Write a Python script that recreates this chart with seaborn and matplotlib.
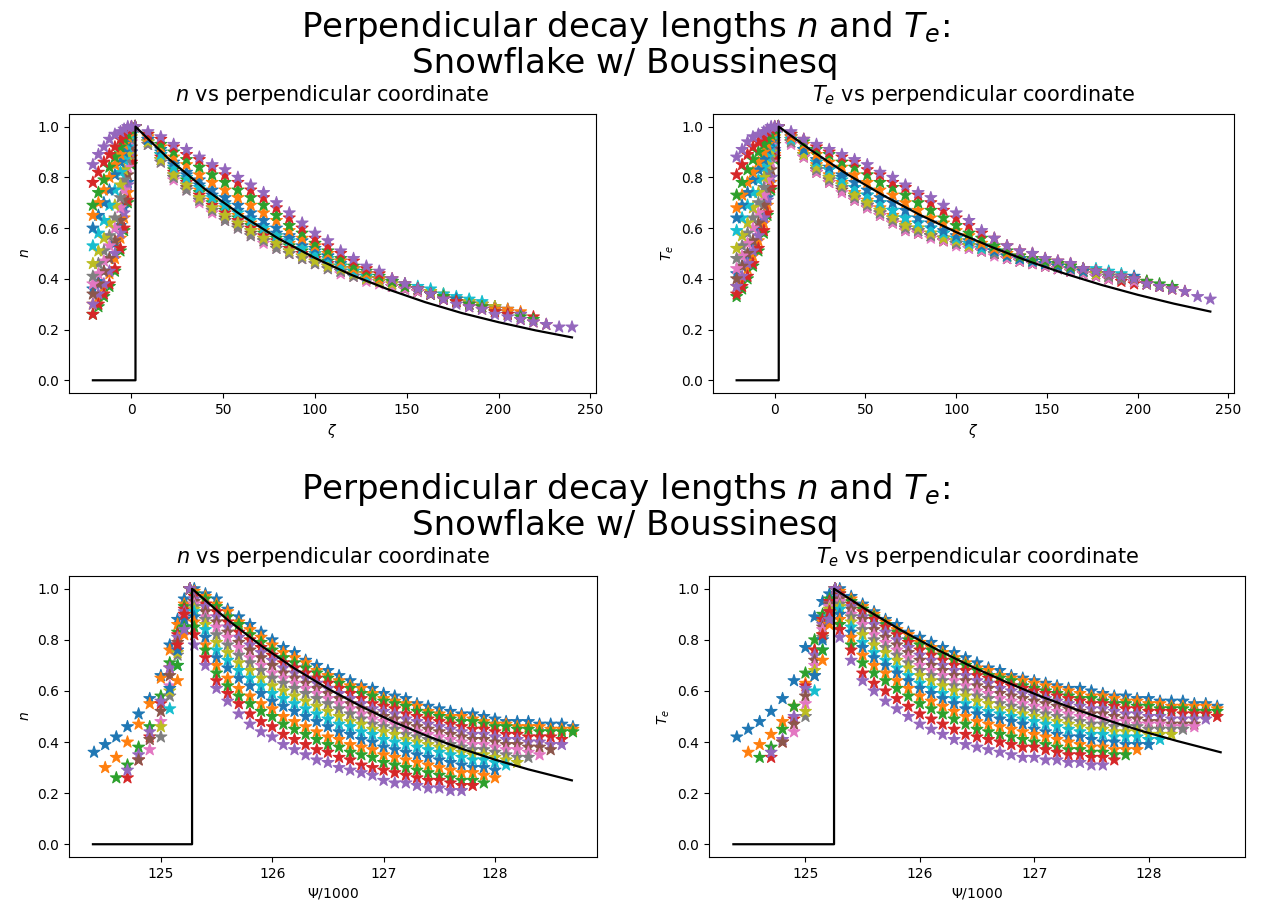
import matplotlib
matplotlib.use("Agg")
import matplotlib.pyplot as plt
import seaborn as sns
import pandas as pd

# perpendicular grids: zeta for the top row, psi/1000 for the bottom row
zeta_pfr = [-21, -18, -15, -12, -9, -6, -4, -2, 0]
zeta_sol = [2, 9, 16, 23, 30, 37, 44, 51, 58, 65, 72, 79, 86, 93, 100, 107, 114, 121,
            128, 135, 142, 149, 156, 163, 170, 177, 184, 191, 198, 205, 212, 219, 226, 233, 240]
psi_pfr = [124.40, 124.50, 124.60, 124.70, 124.80, 124.90, 125.00, 125.08, 125.15, 125.21, 125.26]
psi_sol = [125.3, 125.4, 125.5, 125.6, 125.7, 125.8, 125.9, 126.0, 126.1, 126.2, 126.3, 126.4,
           126.5, 126.6, 126.7, 126.8, 126.9, 127.0, 127.1, 127.2, 127.3, 127.4, 127.5, 127.6,
           127.7, 127.8, 127.9, 128.0, 128.1, 128.2, 128.3, 128.4, 128.5, 128.6, 128.7]

# profiles (percent of peak), one row per poloidal location
n_zeta_pfr = [
    [36, 39, 43, 48, 54, 61, 68, 78, 90],
    [30, 33, 37, 42, 48, 56, 64, 74, 88],
    [26, 29, 33, 37, 43, 51, 59, 70, 85],
    [26, 30, 34, 38, 44, 52, 60, 71, 86],
    [30, 34, 38, 43, 50, 58, 66, 77, 90],
    [34, 38, 43, 48, 55, 63, 71, 81, 92],
    [38, 42, 47, 53, 60, 68, 75, 84, 94],
    [41, 46, 51, 57, 64, 72, 79, 87, 95],
    [46, 51, 56, 62, 69, 77, 83, 89, 96],
    [53, 58, 63, 69, 75, 82, 87, 92, 97],
    [60, 65, 70, 75, 81, 86, 90, 94, 98],
    [65, 70, 75, 80, 85, 89, 93, 96, 99],
    [69, 74, 79, 84, 88, 92, 95, 97, 99],
    [78, 82, 86, 89, 92, 95, 97, 99, 100],
    [85, 89, 92, 95, 97, 98, 99, 100, 100],
]
n_zeta_sol = [
    [100, 95, 90, 85, 81, 77, 73, 70, 67, 64, 61, 58, 56, 53, 51, 49, 46, 44, 42, 40, 39, 37, 36, 35, 33, 32, 31, 30, 29, 28],
    [100, 95, 89, 84, 80, 75, 71, 68, 65, 62, 59, 57, 54, 52, 50, 48, 45, 43, 41, 40, 38, 37, 36, 35, 33, 32, 31, 30, 29, 28, 27],
    [100, 94, 89, 83, 79, 74, 70, 67, 64, 61, 58, 56, 53, 51, 49, 47, 45, 43, 41, 39, 37, 36, 35, 34, 32, 31, 30, 29, 28, 27, 26],
    [100, 94, 88, 82, 78, 73, 69, 66, 63, 60, 57, 55, 52, 50, 48, 46, 44, 42, 40, 39, 37, 36, 35, 34, 32, 31, 30, 29, 28, 27, 26, 25],
    [100, 94, 87, 81, 77, 72, 68, 65, 62, 59, 56, 54, 51, 49, 47, 45, 43, 42, 40, 39, 37, 36, 35, 34, 32, 31, 30, 29, 28, 27, 26],
    [100, 93, 87, 80, 76, 71, 67, 64, 61, 58, 55, 53, 50, 48, 46, 45, 43, 41, 40, 39, 37, 36, 35, 34, 32, 31, 30, 29, 28, 27],
    [100, 93, 86, 79, 75, 70, 66, 63, 60, 57, 54, 52, 50, 48, 46, 44, 42, 41, 39, 38, 37, 36, 35, 34, 32, 31, 30, 29, 28, 27],
    [100, 93, 86, 80, 75, 71, 67, 63, 60, 57, 55, 52, 50, 48, 46, 44, 43, 41, 40, 39, 38, 37, 36, 34, 33, 32, 31, 30, 29],
    [100, 94, 87, 81, 77, 72, 68, 65, 62, 59, 56, 54, 51, 49, 47, 45, 44, 42, 40, 39, 38, 37, 36, 35, 34, 32, 31, 30, 29],
    [100, 95, 89, 84, 80, 76, 72, 69, 66, 63, 60, 57, 55, 52, 50, 48, 45, 43, 41, 40, 39, 38, 37, 36, 34, 33, 32, 31],
    [100, 95, 91, 86, 82, 79, 75, 72, 69, 66, 63, 60, 57, 55, 52, 49, 47, 44, 42, 40, 39, 37, 36, 34, 33, 32, 30, 29, 28],
    [100, 96, 92, 88, 85, 81, 78, 75, 72, 69, 66, 63, 59, 56, 53, 50, 47, 44, 42, 40, 39, 37, 36, 34, 33, 31, 30, 29, 28, 27],
    [100, 97, 93, 90, 87, 84, 81, 78, 75, 72, 69, 65, 61, 58, 54, 51, 48, 45, 43, 41, 39, 37, 36, 34, 33, 31, 30, 29, 27, 26, 25, 24],
    [100, 97, 95, 92, 89, 87, 84, 81, 78, 75, 72, 68, 64, 60, 56, 53, 50, 47, 44, 42, 40, 38, 36, 34, 32, 31, 29, 28, 27, 26, 24, 23, 22],
    [100, 98, 96, 93, 91, 88, 85, 83, 80, 77, 74, 70, 66, 62, 58, 55, 51, 48, 45, 43, 40, 38, 36, 34, 32, 30, 29, 28, 26, 25, 24, 23, 22, 21, 21],
]
te_zeta_pfr = [
    [42, 45, 49, 54, 59, 65, 72, 80, 90],
    [37, 40, 44, 49, 55, 62, 69, 78, 89],
    [33, 36, 40, 45, 51, 58, 65, 75, 87],
    [34, 37, 41, 46, 52, 59, 66, 76, 88],
    [37, 41, 46, 51, 57, 64, 71, 80, 91],
    [40, 45, 50, 55, 62, 69, 75, 83, 93],
    [44, 49, 54, 60, 66, 73, 79, 86, 94],
    [48, 53, 58, 64, 70, 76, 82, 88, 95],
    [52, 57, 62, 68, 74, 80, 85, 90, 96],
    [59, 64, 69, 74, 79, 84, 88, 92, 97],
    [64, 69, 74, 79, 83, 87, 91, 94, 98],
    [68, 73, 78, 82, 86, 90, 93, 96, 99],
    [73, 78, 83, 87, 90, 93, 95, 97, 99],
    [81, 85, 89, 92, 94, 96, 98, 99, 100],
    [88, 91, 94, 96, 97, 98, 99, 100, 100],
]
te_zeta_sol = [
    [100, 96, 91, 86, 83, 80, 76, 73, 70, 67, 64, 62, 60, 58, 56, 54, 52, 51, 49, 48, 47, 46, 45, 44, 43, 42, 41, 40, 40, 39],
    [100, 95, 90, 85, 81, 78, 74, 71, 68, 65, 62, 60, 58, 56, 55, 53, 52, 50, 49, 48, 47, 46, 45, 44, 43, 42, 41, 40, 39, 38, 37],
    [100, 95, 89, 84, 80, 77, 73, 70, 67, 64, 61, 59, 57, 56, 54, 53, 52, 50, 49, 48, 47, 46, 45, 44, 43, 42, 41, 40, 39, 38, 37],
    [100, 94, 89, 83, 79, 76, 72, 69, 66, 63, 60, 58, 57, 55, 54, 53, 51, 50, 48, 47, 46, 45, 44, 43, 43, 42, 40, 39, 38, 38, 37, 36],
    [100, 94, 89, 83, 80, 76, 72, 69, 66, 63, 60, 59, 57, 56, 54, 52, 51, 50, 48, 47, 46, 45, 44, 43, 42, 41, 40, 40, 39, 38, 37],
    [100, 94, 88, 82, 78, 75, 71, 68, 65, 62, 59, 58, 57, 55, 54, 53, 51, 50, 48, 47, 46, 45, 44, 43, 42, 41, 40, 40, 39, 38],
    [100, 93, 88, 82, 78, 74, 71, 68, 65, 62, 59, 58, 56, 55, 53, 52, 51, 49, 48, 47, 46, 45, 44, 43, 42, 41, 40, 40, 39, 38],
    [100, 94, 89, 83, 79, 76, 72, 69, 66, 63, 60, 59, 57, 56, 54, 53, 52, 50, 49, 48, 47, 46, 45, 44, 43, 42, 41, 40, 40],
    [100, 95, 89, 84, 80, 77, 73, 70, 67, 64, 61, 60, 58, 56, 55, 53, 52, 51, 49, 48, 47, 46, 45, 44, 43, 42, 42, 41, 40],
    [100, 95, 91, 86, 83, 79, 76, 73, 70, 67, 64, 62, 60, 58, 56, 54, 52, 51, 49, 48, 47, 46, 46, 45, 44, 44, 43, 42],
    [100, 96, 91, 87, 84, 81, 78, 75, 72, 70, 67, 64, 62, 59, 57, 55, 53, 51, 49, 48, 47, 46, 45, 44, 43, 43, 42, 41, 41],
    [100, 96, 93, 89, 86, 84, 81, 78, 75, 73, 70, 67, 64, 62, 59, 57, 54, 52, 50, 49, 48, 47, 46, 45, 44, 43, 42, 41, 40, 39],
    [100, 97, 94, 91, 89, 86, 84, 81, 78, 76, 73, 70, 67, 64, 61, 58, 56, 53, 51, 49, 48, 47, 46, 45, 44, 43, 42, 41, 40, 39, 38, 37],
    [100, 97, 95, 92, 90, 88, 86, 83, 81, 78, 76, 73, 70, 67, 64, 61, 58, 56, 53, 51, 50, 48, 47, 46, 44, 43, 42, 41, 40, 38, 37, 36, 35],
    [100, 98, 95, 93, 91, 89, 87, 85, 82, 80, 77, 74, 72, 69, 66, 63, 59, 56, 53, 51, 50, 48, 47, 46, 44, 43, 42, 41, 40, 38, 37, 36, 35, 33, 32],
]
n_psi_pfr = [
    [36, 39, 42, 46, 51, 57, 66, 78, 88, 96, 100],
    [30, 34, 40, 47, 55, 65, 76, 86, 94, 100],
    [26, 31, 38, 46, 58, 71, 83, 93, 100],
    [26, 33, 42, 55, 69, 82, 92, 100],
    [29, 35, 44, 56, 69, 81, 91, 100],
    [33, 41, 52, 66, 79, 90, 100],
    [37, 48, 62, 76, 89, 100],
    [42, 58, 74, 88, 100],
    [46, 60, 75, 88, 100],
    [53, 70, 85, 100],
    [61, 76, 88, 100],
    [64, 82, 100],
    [70, 85, 100],
    [78, 90, 100],
    [84, 100],
]
n_psi_sol = [
    [100, 98, 96, 92, 89, 86, 83, 80, 77, 75, 72, 70, 68, 66, 64, 62, 61, 59, 58, 57, 55, 54, 53, 52, 51, 51, 50, 49, 48, 48, 48, 47, 47, 47, 46],
    [99, 97, 94, 91, 87, 84, 81, 78, 75, 73, 71, 68, 66, 64, 62, 61, 59, 57, 56, 55, 54, 52, 51, 50, 50, 49, 48, 47, 47, 46, 46, 46, 45, 45, 45],
    [98, 96, 93, 89, 86, 82, 79, 76, 73, 71, 69, 67, 65, 63, 61, 59, 58, 56, 55, 54, 52, 51, 50, 49, 48, 48, 47, 46, 46, 45, 45, 44, 44, 44, 44],
    [97, 94, 91, 87, 83, 80, 77, 74, 71, 69, 67, 65, 63, 61, 59, 57, 55, 54, 53, 51, 50, 49, 48, 47, 46, 45, 45, 44, 43, 43, 42, 42, 42, 41],
    [96, 93, 89, 85, 81, 78, 75, 72, 69, 67, 65, 63, 61, 59, 57, 55, 53, 52, 51, 49, 48, 47, 46, 45, 44, 43, 43, 42, 41, 41, 40, 40, 39, 39],
    [95, 91, 87, 83, 79, 76, 73, 70, 67, 65, 63, 61, 59, 57, 55, 53, 51, 50, 49, 47, 46, 45, 44, 43, 42, 41, 41, 40, 39, 39, 38, 38, 37],
    [94, 89, 85, 81, 77, 73, 70, 67, 65, 63, 61, 59, 57, 55, 53, 51, 49, 48, 47, 45, 44, 43, 42, 41, 40, 39, 39, 38, 37, 37, 36, 35],
    [93, 88, 82, 78, 74, 71, 68, 65, 63, 61, 59, 57, 55, 53, 51, 49, 47, 46, 45, 43, 42, 41, 40, 39, 38, 37, 37, 36, 35, 34, 34],
    [92, 86, 79, 75, 71, 68, 65, 62, 60, 58, 56, 54, 52, 50, 48, 47, 45, 44, 43, 41, 40, 39, 38, 37, 36, 35, 35, 34, 33, 32],
    [91, 84, 76, 72, 68, 65, 62, 59, 57, 55, 53, 51, 49, 47, 46, 44, 43, 41, 40, 39, 38, 37, 36, 35, 34, 33, 33, 32, 31],
    [89, 81, 73, 69, 65, 62, 59, 56, 54, 52, 50, 48, 46, 44, 43, 41, 40, 38, 37, 36, 35, 34, 33, 32, 31, 30, 30, 29],
    [87, 78, 70, 65, 61, 58, 55, 53, 50, 48, 46, 44, 42, 41, 39, 38, 37, 35, 34, 33, 32, 31, 30, 29, 28, 28, 27, 26],
    [85, 76, 67, 62, 58, 55, 52, 50, 47, 45, 43, 41, 39, 38, 36, 35, 34, 32, 31, 30, 29, 28, 27, 26, 25, 25, 24],
    [82, 73, 64, 59, 55, 51, 48, 46, 43, 41, 39, 37, 36, 34, 33, 31, 30, 29, 28, 27, 26, 25, 25, 24, 23, 23],
    [78, 70, 61, 56, 51, 47, 44, 42, 39, 37, 35, 33, 32, 30, 29, 28, 27, 25, 24, 24, 23, 22, 22, 21, 21],
]
te_psi_pfr = [
    [42, 45, 48, 52, 57, 64, 77, 89, 95, 98, 100],
    [36, 39, 43, 48, 54, 63, 76, 87, 94, 100],
    [34, 38, 45, 54, 67, 80, 90, 96, 100],
    [34, 40, 49, 62, 76, 88, 95, 100],
    [36, 41, 50, 61, 74, 86, 94, 100],
    [40, 47, 58, 72, 85, 94, 100],
    [44, 55, 70, 84, 93, 100],
    [50, 66, 81, 92, 100],
    [52, 68, 82, 92, 100],
    [60, 76, 89, 100],
    [66, 80, 91, 100],
    [72, 86, 100],
    [76, 88, 100],
    [82, 91, 100],
    [88, 100],
]
te_psi_sol = [
    [100, 97, 94, 91, 88, 86, 83, 81, 79, 77, 75, 73, 71, 69, 68, 66, 65, 64, 63, 62, 61, 61, 60, 59, 58, 58, 57, 57, 56, 56, 56, 55, 55, 54],
    [99, 96, 93, 90, 87, 84, 82, 79, 77, 75, 73, 71, 69, 68, 66, 65, 64, 63, 62, 61, 60, 59, 58, 58, 57, 56, 56, 55, 55, 54, 54, 54, 54, 53],
    [98, 95, 92, 89, 86, 83, 80, 78, 76, 74, 72, 70, 68, 66, 65, 64, 62, 61, 60, 59, 58, 57, 57, 56, 55, 55, 54, 54, 53, 53, 53, 52, 52, 52],
    [98, 94, 91, 88, 85, 82, 79, 76, 74, 72, 70, 68, 66, 65, 63, 62, 61, 60, 59, 58, 57, 56, 55, 55, 54, 53, 53, 52, 52, 52, 51, 51, 51, 50],
    [97, 93, 89, 86, 83, 80, 77, 74, 72, 70, 68, 66, 64, 63, 61, 60, 59, 58, 57, 56, 55, 54, 53, 53, 52, 51, 51, 50, 50, 49, 49, 49, 49],
    [96, 92, 88, 84, 81, 78, 75, 72, 70, 68, 66, 64, 62, 61, 59, 58, 57, 56, 55, 54, 53, 52, 51, 51, 50, 49, 49, 48, 48, 47, 47, 47],
    [95, 90, 86, 82, 79, 76, 73, 70, 68, 66, 64, 62, 60, 59, 57, 56, 55, 54, 53, 52, 51, 50, 49, 49, 48, 48, 47, 47, 47, 46, 46, 46],
    [94, 89, 84, 80, 77, 74, 71, 68, 66, 64, 62, 60, 58, 57, 55, 54, 53, 52, 51, 50, 49, 48, 47, 47, 46, 46, 46, 45, 45, 45, 45],
    [93, 87, 82, 78, 75, 72, 69, 66, 64, 62, 60, 58, 56, 55, 53, 52, 51, 50, 49, 48, 47, 46, 45, 45, 44, 44, 44, 43, 43, 43],
    [92, 85, 79, 75, 72, 69, 66, 63, 61, 59, 57, 55, 53, 52, 51, 50, 49, 48, 47, 46, 45, 44, 43, 43, 42, 42, 42, 41, 41],
    [90, 83, 77, 73, 70, 67, 64, 61, 59, 57, 55, 53, 51, 50, 49, 48, 47, 45, 44, 43, 42, 42, 41, 40, 40, 39, 39, 39],
    [88, 81, 74, 70, 67, 64, 61, 58, 56, 54, 52, 50, 48, 47, 46, 45, 44, 43, 42, 41, 40, 39, 38, 38, 37, 37, 37],
    [86, 78, 71, 67, 64, 61, 58, 55, 53, 51, 49, 47, 45, 44, 43, 42, 41, 40, 39, 38, 37, 37, 36, 36, 35, 35],
    [84, 76, 67, 63, 60, 57, 54, 51, 49, 47, 45, 43, 42, 41, 40, 39, 38, 38, 37, 36, 35, 35, 34, 34, 33],
    [81, 72, 64, 60, 56, 53, 50, 47, 45, 43, 41, 39, 38, 37, 36, 35, 34, 34, 33, 33, 32, 32, 31, 31],
]

# exponential fits (black lines)
fit_zeta = [-21, 2.2, 2.2, 20, 40, 60, 80, 100, 120, 140, 160, 180, 200, 220, 240]
n_fit_zeta = [0, 0, 1.0, .875, .754, .650, .559, .482, .415, .358, .308, .265, .229, .197, .169]
te_fit_zeta = [0, 0, 1.0, .907, .812, .728, .652, .584, .524, .469, .420, .376, .337, .302, .271]
fit_psi_n = [124.39, 125.28, 125.28, 125.6, 125.9, 126.2, 126.5, 126.8, 127.1, 127.4, 127.7, 128.0, 128.3, 128.69]
n_fit_psi = [0, 0, 1.0, .878, .777, .688, .609, .539, .477, .422, .374, .331, .293, .250]
fit_psi_te = [124.37, 125.25, 125.25, 125.55, 125.85, 126.15, 126.45, 126.75, 127.05, 127.35, 127.65, 127.95, 128.25, 128.63]
te_fit_psi = [0, 0, 1.0, .913, .834, .762, .696, .636, .580, .530, .484, .442, .404, .360]

row_title = "Perpendicular decay lengths $n$ and $T_e$:\nSnowflake w/ Boussinesq"

tab = sns.color_palette("tab10", 10)
names = [str(k) for k in range(15)]
palette = {names[k]: tab[k % 10] for k in range(15)}


def long_table(x_pfr, x_sol, pfr, sol):
    xs, ys, ss = [], [], []
    for k in range(len(pfr)):
        x = list(x_pfr[-len(pfr[k]):]) + list(x_sol[:len(sol[k])])
        y = [v / 100 for v in pfr[k] + sol[k]]
        xs += x
        ys += y
        ss += [names[k]] * len(x)
    return pd.DataFrame({"x": xs, "y": ys, "series": ss})


fig = plt.figure(figsize=(12.65, 9.16), dpi=100)
ax_tl = fig.add_axes([0.0545, 0.5710, 0.4166, 0.3046])
ax_tr = fig.add_axes([0.5636, 0.5710, 0.4119, 0.3046])
ax_bl = fig.add_axes([0.0545, 0.0644, 0.4174, 0.3068])
ax_br = fig.add_axes([0.5605, 0.0644, 0.4237, 0.3068])

panels = [
    (ax_tl, zeta_pfr, zeta_sol, n_zeta_pfr, n_zeta_sol, fit_zeta, n_fit_zeta, "$n$", r"$\zeta$"),
    (ax_tr, zeta_pfr, zeta_sol, te_zeta_pfr, te_zeta_sol, fit_zeta, te_fit_zeta, "$T_e$", r"$\zeta$"),
    (ax_bl, psi_pfr, psi_sol, n_psi_pfr, n_psi_sol, fit_psi_n, n_fit_psi, "$n$", r"$\Psi/1000$"),
    (ax_br, psi_pfr, psi_sol, te_psi_pfr, te_psi_sol, fit_psi_te, te_fit_psi, "$T_e$", r"$\Psi/1000$"),
]

for ax, xp, xs, pfr, sol, fx, fy, qty, xlab in panels:
    df = long_table(xp, xs, pfr, sol)
    sns.scatterplot(data=df, x="x", y="y", hue="series", hue_order=names, palette=palette,
                    marker="*", s=80, edgecolor="face", linewidth=0.8, legend=False, ax=ax)
    sns.lineplot(x=fx, y=fy, sort=False, estimator=None, color="k", linewidth=1.6, ax=ax)
    ax.set_title(qty + " vs perpendicular coordinate", fontsize=15, pad=9)
    ax.set_ylabel(qty)
    ax.set_xlabel(xlab)

fig.text(0.494, 0.990, row_title, ha="center", va="top", fontsize=24.5, linespacing=1.05)
fig.text(0.494, 0.486, row_title, ha="center", va="top", fontsize=24.5, linespacing=1.05)

fig.savefig("out.png", dpi=100)
